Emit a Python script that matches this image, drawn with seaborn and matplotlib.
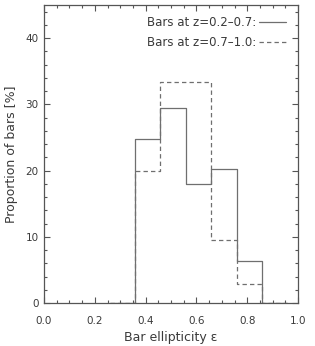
import numpy as np
import pandas as pd
import matplotlib
matplotlib.use("Agg")
import matplotlib.pyplot as plt
from matplotlib.lines import Line2D
from matplotlib.ticker import MultipleLocator
import seaborn as sns

# ---- data ----
bin_edges = [0.358, 0.458, 0.558, 0.658, 0.758, 0.858]
solid_pct = [24.8, 29.4, 17.9, 20.2, 6.3]      # bars at z=0.2-0.7
dashed_pct = [20.0, 33.3, 33.3, 9.5, 2.8]      # bars at z=0.7-1.0
labels = ["Bars at z=0.2\u20130.7:", "Bars at z=0.7\u20131.0:"]
xticks = [0.0, 0.2, 0.4, 0.6, 0.8, 1.0]
yticks = [0, 10, 20, 30, 40]

sns.set_style("ticks")
plt.rcParams["font.family"] = ["DejaVu Sans"]

line_col = "#6f6f6f"
axis_col = "#555555"
text_col = "#3a3a3a"

fig = plt.figure(figsize=(3.15, 3.46), dpi=100)
ax = fig.add_axes([44 / 315, 1 - 303 / 346, 254 / 315, 298 / 346])

edges = np.array(bin_edges)
centers = (edges[:-1] + edges[1:]) / 2
w = edges[1] - edges[0]
# pad with empty bins so the outline drops to zero at both ends
padded = [float(v) for v in np.concatenate([[edges[0] - w], edges, [edges[-1] + w]])]

df_solid = pd.DataFrame({"x": centers, "pct": solid_pct})
df_dash = pd.DataFrame({"x": centers, "pct": dashed_pct})

sns.histplot(data=df_solid, x="x", weights="pct", bins=padded,
             element="step", fill=False, color=line_col, linewidth=0.9,
             ax=ax, zorder=1)
sns.histplot(data=df_dash, x="x", weights="pct", bins=padded,
             element="step", fill=False, color=line_col, linewidth=0.9,
             linestyle=(0, (3.5, 2.5)), ax=ax, zorder=1)

ax.set_xlim(0, 1.0)
ax.set_ylim(0, 45)
ax.set_xticks(xticks)
ax.set_xticklabels([f"{v:.1f}" for v in xticks])
ax.set_yticks(yticks)
ax.set_yticklabels([str(v) for v in yticks])
ax.xaxis.set_minor_locator(MultipleLocator(0.05))
ax.yaxis.set_minor_locator(MultipleLocator(2))

ax.tick_params(which="both", direction="in", top=True, right=True,
               color=axis_col, width=0.8, labelcolor=text_col, labelsize=7.5)
ax.tick_params(which="major", length=4.5)
ax.tick_params(which="minor", length=2.5)
ax.tick_params(axis="x", which="major", pad=9)
ax.tick_params(axis="y", which="major", pad=4)

for sp in ax.spines.values():
    sp.set_visible(True)
    sp.set_color(axis_col)
    sp.set_linewidth(0.9)
    sp.set_zorder(3)

ax.set_xlabel("Bar ellipticity \u03b5", fontsize=9, color=text_col, labelpad=4)
ax.set_ylabel("Proportion of bars [%]", fontsize=9, color=text_col, labelpad=5)

handles = [Line2D([], [], color=line_col, linewidth=0.9),
           Line2D([], [], color=line_col, linewidth=0.9, linestyle=(0, (3.5, 2.5)))]
leg = ax.legend(handles, labels, loc="upper right", bbox_to_anchor=(0.953, 0.962),
                frameon=False, markerfirst=False, fontsize=8.5, handlelength=2.3,
                handletextpad=0.2, labelspacing=0.6, borderpad=0, borderaxespad=0)
for t in leg.get_texts():
    t.set_color(text_col)

fig.savefig("out.png", dpi=100)
